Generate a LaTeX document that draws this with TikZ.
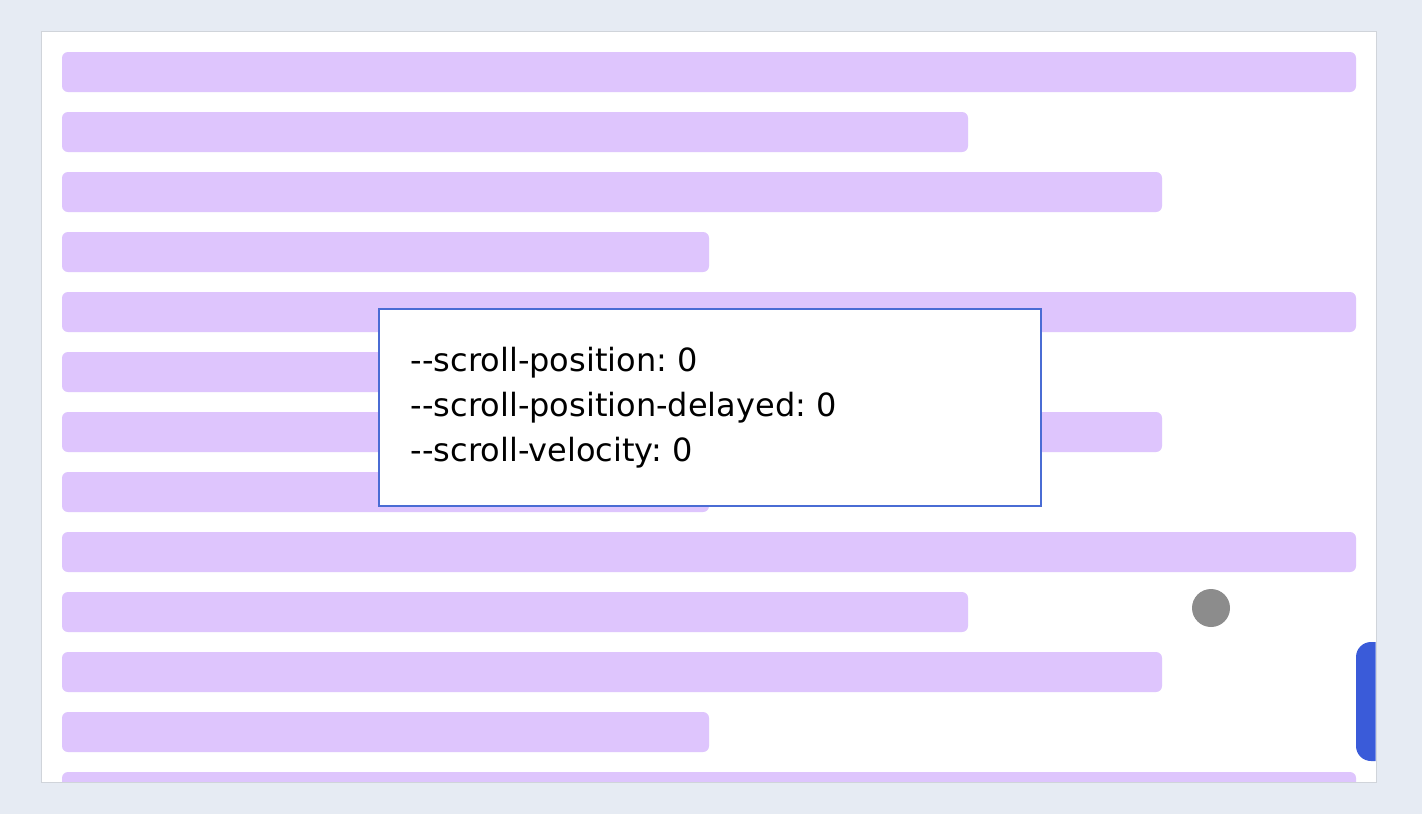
\documentclass[tikz,border=0pt]{standalone}
\usepackage{fontspec}
\setmainfont{DejaVu Sans}
\usepackage{tikz}

\definecolor{pagebg}{RGB}{230,235,243}
\definecolor{framegray}{RGB}{208,212,218}
\definecolor{barlilac}{RGB}{222,197,253}
\definecolor{panelblue}{RGB}{74,108,212}
\definecolor{thumbblue}{RGB}{58,91,217}
\definecolor{dotgray}{RGB}{140,140,140}

\tikzset{
    bar/.style={fill=barlilac, rounded corners=3pt},
    panel/.style={rectangle, draw=panelblue, line width=0.8pt, fill=white, anchor=north west,
        minimum width=331pt, minimum height=98.5pt, inner xsep=16pt, text width=299pt, align=left,
        font={\frenchspacing\fontsize{16}{22.5}\selectfont}}
}

\begin{document}
\begin{tikzpicture}[x=0.5pt, y=-0.5pt]
        \useasboundingbox (0,0) rectangle (1422,814);
        \fill[pagebg] (0,0) rectangle (1422,814);
        \draw[framegray, fill=white, line width=0.5pt] (41,31) rectangle (1376,782);
        \begin{scope}
            \clip (41.5,31.5) rectangle (1375.5,781.5);
            % list rows
            \foreach \y/\r in {52/1356,112/968,172/1162,232/709,292/1356,352/968,412/1162,
                               472/709,532/1356,592/968,652/1162,712/709,772/1356}
                \fill[bar] (62,\y) rectangle (\r,\y+40);
            % scrollbar thumb
            \fill[thumbblue, rounded corners=7.5pt] (1356,642) rectangle (1396,761);
        \end{scope}
        \node[panel] (vars) at (378,308) {-{}-scroll-position: 0\\
            -{}-scroll-position-delayed: 0\\
            -{}-scroll-velocity: 0};
        \node[circle, fill=dotgray, minimum size=19pt, inner sep=0pt] (dot) at (1211,608) {};
    \end{tikzpicture}
\end{document}
